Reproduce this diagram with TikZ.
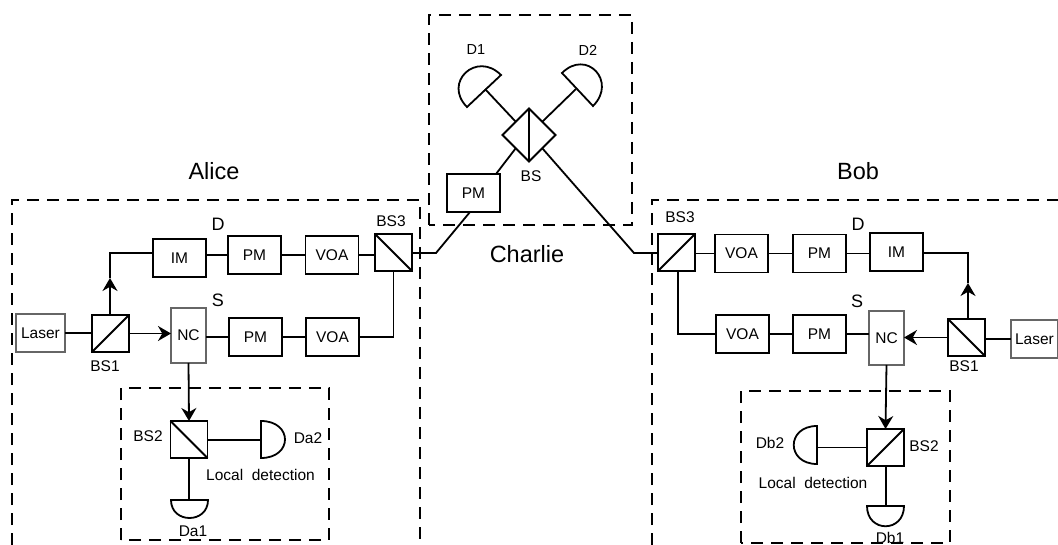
\documentclass[tikz,border=0pt]{standalone}
\usepackage{fontspec}
\setmainfont{Liberation Sans}
\usetikzlibrary{arrows.meta,calc,shapes.geometric}
\tikzset{
  ln/.style={line width=1.8pt,black},
  cmp/.style={draw,ln,minimum width=53pt,minimum height=38pt,inner sep=0pt,outer sep=0pt,font=\fontsize{15.5}{17}\selectfont},
  grayb/.style={cmp,draw=black!60},
  split/.style={cmp,minimum width=37pt,minimum height=37pt},
  zone/.style={line width=1.7pt,black,dash pattern=on 12pt off 8pt},
  txt/.style={inner sep=0pt,font=\fontsize{14.5}{16}\selectfont},
  small/.style={inner sep=0pt,font=\fontsize{15.5}{17}\selectfont},
  big/.style={inner sep=0pt,font=\fontsize{23.5}{26}\selectfont},
  letter/.style={inner sep=0pt,font=\fontsize{18}{20}\selectfont},
  arr/.style={ln,-{Stealth[length=13pt,width=15pt]}},
}
\begin{document}
\begin{tikzpicture}[x=1pt,y=-1pt]
\useasboundingbox (0,0) rectangle (1058,545);
% zones
\draw[zone] (12,545) -- (12,200) -- (420,200) -- (420,545);
\draw[zone] (652,545) -- (652,200) -- (1058,200);
\draw[zone] (429,225) -- (429,15) -- (632,15) -- (632,225) -- cycle;
\draw[zone] (121,540) -- (121,388) -- (329,388) -- (329,540) -- cycle;
\draw[zone] (741,543) -- (741,391) -- (950,391) -- (950,543) -- cycle;
% Alice
\node[grayb,minimum width=49pt] (alaser) at (40.5,333) {Laser};
\node[split] (abs1) at (110.5,333.5) {};
\node[grayb,minimum width=35pt,minimum height=55pt] (anc) at (188.5,335.5) {NC};
\node[cmp] (apm2) at (255.5,337) {PM};
\node[cmp] (avoa2) at (332.5,337) {VOA};
\node[cmp] (aim) at (179.5,258) {IM};
\node[cmp] (apm1) at (254.5,255) {PM};
\node[cmp] (avoa1) at (332,255) {VOA};
\node[split] (abs3) at (393.5,252.5) {};
\node[split] (abs2) at (189,439.5) {};
\draw[ln] (abs1.south west) -- (abs1.north east);
\draw[ln] (abs3.north west) -- (abs3.south east);
\draw[ln] (abs2.north west) -- (abs2.south east);
\coordinate (aup) at (110,278);
\coordinate (acor) at (110,253);
\coordinate (ada2) at (261,440);
\coordinate (ada1) at (189,500);
\coordinate (aout) at (436,253);
\draw[ln] (261,421) .. controls (293,421) and (293,458) .. (261,458) -- cycle;
\draw[ln] (171,500) .. controls (171,524) and (208,524) .. (208,500) -- cycle;
\draw[ln] (alaser.east) -- (alaser.east -| abs1.west);
\draw[arr] (abs1.east) -- (anc.west |- abs1.east);
\draw[arr] (abs1.north -| aup) -- (aup);
\draw[ln] (aup) -- (acor) -- (acor -| aim.west);
\draw[ln] (aim.east |- apm1.west) -- (apm1.west);
\draw[ln] (apm1.east) -- (avoa1.west);
\draw[ln] (avoa1.east) -- (abs3.west |- avoa1.east);
\draw[ln] (anc.east |- apm2.west) -- (apm2.west);
\draw[ln] (apm2.east) -- (avoa2.west);
\draw[ln] (avoa2.east) -| (abs3.south);
\draw[arr] (anc.south) -- (abs2.north);
\draw[ln] (abs2.east |- ada2) -- (ada2);
\draw[ln] (abs2.south) -- (ada1);
% Bob
\node[grayb,minimum width=47pt] (blaser) at (1034.5,339) {Laser};
\node[split] (bbs1) at (966.5,337.5) {};
\node[grayb,minimum width=35pt,minimum height=54pt] (bnc) at (886.5,338) {NC};
\node[cmp] (bpm2) at (819.5,334) {PM};
\node[cmp] (bvoa2) at (742.5,334) {VOA};
\node[cmp] (bim) at (896.5,252) {IM};
\node[cmp] (bpm1) at (819.5,253.5) {PM};
\node[cmp] (bvoa1) at (741.5,253.5) {VOA};
\node[split] (bbs3) at (676.5,252.5) {};
\node[split] (bbs2) at (885.5,447.5) {};
\draw[ln] (bbs1.north west) -- (bbs1.south east);
\draw[ln] (bbs3.south west) -- (bbs3.north east);
\draw[ln] (bbs2.south west) -- (bbs2.north east);
\coordinate (bup) at (968,283);
\coordinate (bcor) at (968,253);
\coordinate (bdb2) at (817,447.5);
\coordinate (bdb1) at (886,506);
\coordinate (bout) at (634,253);
\coordinate (bturn) at (678,334);
\draw[ln] (817,426) .. controls (786,426) and (786,464) .. (817,464) -- cycle;
\draw[ln] (867,506) .. controls (867,533) and (904,533) .. (904,506) -- cycle;
\draw[ln] (blaser.west) -- (blaser.west -| bbs1.east);
\draw[arr] (bbs1.west) -- (bnc.east |- bbs1.west);
\draw[arr] (bbs1.north -| bup) -- (bup);
\draw[ln] (bup) -- (bcor) -- (bcor -| bim.east);
\draw[ln] (bim.west |- bpm1.east) -- (bpm1.east);
\draw[ln] (bpm1.west) -- (bvoa1.east);
\draw[ln] (bvoa1.west) -- (bbs3.east |- bvoa1.west);
\draw[ln] (bnc.west |- bpm2.east) -- (bpm2.east);
\draw[ln] (bpm2.west) -- (bvoa2.east);
\draw[ln] (bvoa2.west) -- (bturn) -- (bturn |- bbs3.south);
\draw[arr] (bnc.south) -- (bbs2.north);
\draw[ln] (bbs2.west) -- (bdb2);
\draw[ln] (bbs2.south -| bdb1) -- (bdb1);
% Charlie
\node[cmp,minimum height=38pt] (cpm) at (473.5,193) {PM};
\node[draw,ln,diamond,aspect=1,minimum width=53pt,minimum height=53pt,inner sep=0pt,outer sep=0pt] (cbs) at (529,135) {};
\draw[ln] (cbs.north) -- (cbs.south);
\coordinate (cd1) at (485,89);
\coordinate (cd2) at (576,89);
\coordinate (cpmin) at (496,174);
\coordinate (cpmout) at (470,212);
\draw[ln] (467,107) .. controls (442.5,82.5) and (476.5,50.5) .. (501,75) -- cycle;
\draw[ln] (562,73) .. controls (586.5,48.5) and (617.5,81.5) .. (593,106) -- cycle;
\draw[ln] ($(cbs.north)!.5!(cbs.west)$) -- (cd1);
\draw[ln] ($(cbs.north)!.5!(cbs.east)$) -- (cd2);
\draw[ln] ($(cbs.south)!.5!(cbs.west)$) -- (cpmin);
\draw[ln] (cpmout) -- (aout) -- (abs3.east |- aout);
\draw[ln] ($(cbs.south)!.5!(cbs.east)$) -- (bout) -- (bbs3.west |- bout);
% labels
\node[big] (tAlice) at (214,171) {Alice};
\node[big] (tBob) at (858,171) {Bob};
\node[big] (tCharlie) at (527,254) {Charlie};
\node[txt] (tD1) at (476,50) {D1};
\node[txt] (tD2) at (588,50) {D2};
\node[small] (tBS) at (531,176) {BS};
\node[letter] (tDa) at (218,224) {D};
\node[letter] (tSa) at (218,300) {S};
\node[letter] (tDb) at (858,224) {D};
\node[letter] (tSb) at (857,301) {S};
\node[small] (tabs1) at (105,366) {BS1};
\node[small] (tabs3) at (391,221) {BS3};
\node[small] (tabs2) at (148,436) {BS2};
\node[small] (tda2) at (308,438) {Da2};
\node[small] (tda1) at (193,531) {Da1};
\node[small] (tald) at (260.5,475) {Local\ \ detection};
\node[small] (tbbs1) at (964,366) {BS1};
\node[small] (tbbs3) at (680,217) {BS3};
\node[small] (tbbs2) at (924,446) {BS2};
\node[small] (tdb2) at (770,443) {Db2};
\node[small] (tdb1) at (890,538) {Db1};
\node[small] (tbld) at (813,483) {Local\ \ detection};
\end{tikzpicture}
\end{document}
